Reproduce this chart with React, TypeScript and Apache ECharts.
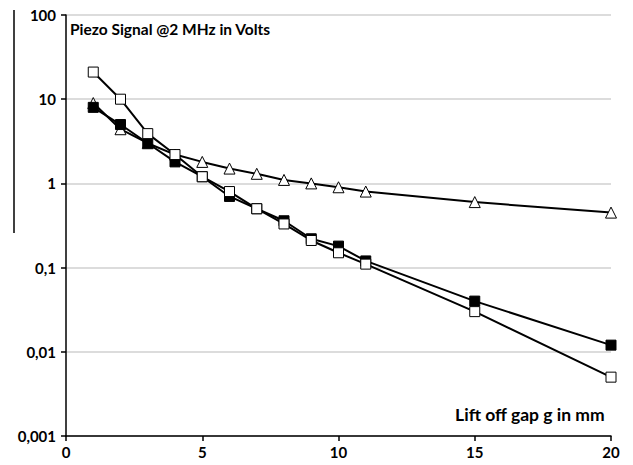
import React, { useEffect, useRef } from "react";
import * as echarts from "echarts";

const gaps = [1, 2, 3, 4, 5, 6, 7, 8, 9, 10, 11, 15, 20];
const openSquares = [21, 10, 3.9, 2.2, 1.2, 0.8, 0.5, 0.33, 0.21, 0.15, 0.11, 0.03, 0.005];
const filledSquares = [8, 5, 3, 1.8, 1.2, 0.7, 0.5, 0.36, 0.22, 0.18, 0.12, 0.04, 0.012];
const triangles = [9, 4.4, 3, 2.2, 1.8, 1.5, 1.3, 1.1, 1.0, 0.9, 0.8, 0.6, 0.45];
const xTicks = [0, 5, 10, 15, 20];
const yTickLabels: Record<string, string> = {
  "0.001": "0,001",
  "0.01": "0,01",
  "0.1": "0,1",
  "1": "1",
  "10": "10",
  "100": "100",
};

const FONT = "Lato, 'Open Sans', sans-serif";

export default function App() {
  const ref = useRef<HTMLDivElement>(null);
  useEffect(() => {
    const chart = echarts.init(ref.current!, undefined, { renderer: "svg" });
    const mk = (vals: number[]) => gaps.map((g, i) => [g, vals[i]]);
    chart.setOption({
      animation: false,
      backgroundColor: "#fff",
      grid: { left: 66, right: 22, top: 15, bottom: 29 },
      xAxis: {
        type: "value",
        min: 0,
        max: 20,
        interval: 5,
        axisLine: { lineStyle: { color: "#000", width: 1.5 } },
        axisTick: { show: true, length: 5, lineStyle: { color: "#000", width: 1.5 } },
        axisLabel: {
          color: "#000",
          fontFamily: FONT,
          fontWeight: "bold",
          fontSize: 15,
          margin: 8,
          formatter: (v: number) => (xTicks.includes(v) ? String(v) : ""),
        },
        splitLine: { show: false },
      },
      yAxis: {
        type: "log",
        logBase: 10,
        min: 0.001,
        max: 100,
        axisLine: { show: true, lineStyle: { color: "#000", width: 1.5 } },
        axisTick: { show: true, length: 5, lineStyle: { color: "#000", width: 1.5 } },
        axisLabel: {
          color: "#000",
          fontFamily: FONT,
          fontWeight: "bold",
          fontSize: 15,
          margin: 10,
          formatter: (v: number) => {
            const k = String(parseFloat(v.toPrecision(3)));
            return yTickLabels[k] ?? k.replace(".", ",");
          },
        },
        splitLine: { show: true, lineStyle: { color: "#d0d0d0", width: 1.5 } },
      },
      graphic: [
        {
          type: "text",
          left: 70,
          top: 21,
          style: {
            text: "Piezo Signal @2 MHz in Volts",
            fontFamily: FONT,
            fontWeight: "bold",
            fontSize: 15.5,
            fill: "#000",
          },
        },
        {
          type: "text",
          right: 28,
          top: 405,
          style: {
            text: "Lift off gap g in mm",
            fontFamily: FONT,
            fontWeight: "bold",
            fontSize: 17.5,
            fill: "#000",
          },
        },
        {
          type: "line",
          shape: { x1: 14, y1: 10, x2: 14, y2: 233 },
          style: { stroke: "#000", lineWidth: 1.5 },
        },
      ],
      series: [
        {
          type: "line",
          data: mk(triangles),
          symbol: "triangle",
          symbolSize: 11,
          lineStyle: { color: "#000", width: 2 },
          itemStyle: { color: "#fff", borderColor: "#000", borderWidth: 1 },
          z: 2,
        },
        {
          type: "line",
          data: mk(filledSquares),
          symbol: "rect",
          symbolSize: 10,
          lineStyle: { color: "#000", width: 2 },
          itemStyle: { color: "#000", borderColor: "#000", borderWidth: 1 },
          z: 3,
        },
        {
          type: "line",
          data: mk(openSquares),
          symbol: "rect",
          symbolSize: 10,
          lineStyle: { color: "#000", width: 2 },
          itemStyle: { color: "#fff", borderColor: "#000", borderWidth: 1 },
          z: 4,
        },
      ],
    });
    return () => chart.dispose();
  }, []);
  return <div ref={ref} style={{ width: 633, height: 465, position: "absolute", left: 0, top: 0 }} />;
}
